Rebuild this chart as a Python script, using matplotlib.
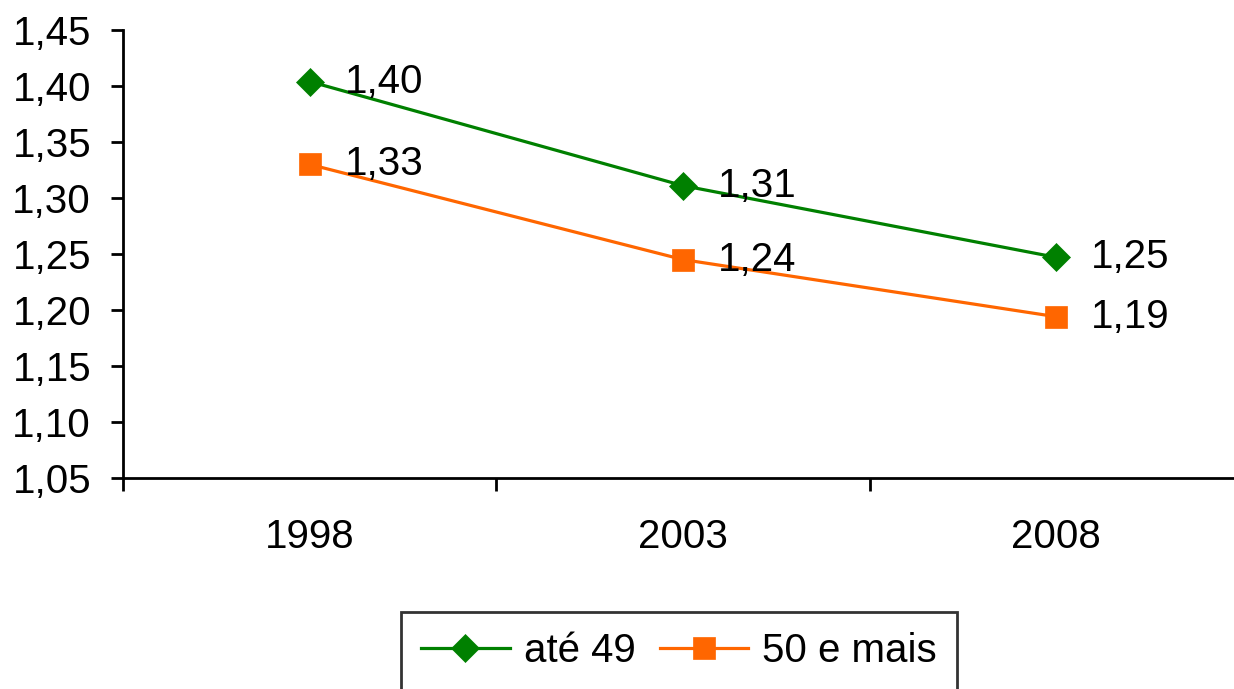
import matplotlib
matplotlib.use("Agg")
import matplotlib.pyplot as plt

years = ["1998", "2003", "2008"]
ate49 = [1.404, 1.311, 1.247]
mais50 = [1.330, 1.245, 1.194]
ate49_labels = ["1,40", "1,31", "1,25"]
mais50_labels = ["1,33", "1,24", "1,19"]
yticks = [1.05, 1.10, 1.15, 1.20, 1.25, 1.30, 1.35, 1.40, 1.45]
ytick_labels = ["1,05", "1,10", "1,15", "1,20", "1,25", "1,30", "1,35", "1,40", "1,45"]

plt.rcParams['font.family'] = ['Liberation Sans', 'DejaVu Sans']
FS = 29

fig = plt.figure(figsize=(12.34, 6.89), dpi=100)
ax = fig.add_axes([123/1234, 1-478/689, 1120/1234, (478-30)/689])

x = list(range(len(years)))
green = '#008000'
orange = '#FF6600'
ax.plot(x, ate49, color=green, lw=2.3, marker='D', ms=14, mfc=green, mec=green, mew=0.5, label='até 49', zorder=3)
ax.plot(x, mais50, color=orange, lw=2.3, marker='s', ms=16, mfc=orange, mec=orange, mew=0.5, label='50 e mais', zorder=3)

for xi, v, t in zip(x, ate49, ate49_labels):
    ax.annotate(t, (xi, v), xytext=(25, 0), textcoords='offset points', va='center', ha='left', fontsize=FS)
for xi, v, t in zip(x, mais50, mais50_labels):
    ax.annotate(t, (xi, v), xytext=(25, 0), textcoords='offset points', va='center', ha='left', fontsize=FS)

ax.set_xlim(-0.5, 2.5)
ax.set_ylim(1.05, 1.45)
ax.set_yticks(yticks)
ax.set_yticklabels(ytick_labels, fontsize=FS)
ax.set_xticks(x)
ax.set_xticklabels(years, fontsize=FS)
ax.set_xticks([-0.5, 0.5, 1.5, 2.5], minor=True)
ax.tick_params(axis='x', which='major', length=0, pad=29)
ax.tick_params(axis='x', which='minor', length=9, width=2, direction='out')
ax.tick_params(axis='y', which='major', length=9, width=2, direction='out', pad=14)
for s in ['top', 'right']:
    ax.spines[s].set_visible(False)
for s in ['left', 'bottom']:
    ax.spines[s].set_linewidth(2)

leg = fig.legend(loc='upper left', bbox_to_anchor=(401/1234, 1-612/689), fontsize=FS,
                 ncol=2, frameon=True, fancybox=False, edgecolor='black',
                 handlelength=2.2, handletextpad=0.35, columnspacing=0.6,
                 borderpad=0.5, borderaxespad=0)
leg.get_frame().set_linewidth(2)

fig.savefig('out.png', dpi=100)
